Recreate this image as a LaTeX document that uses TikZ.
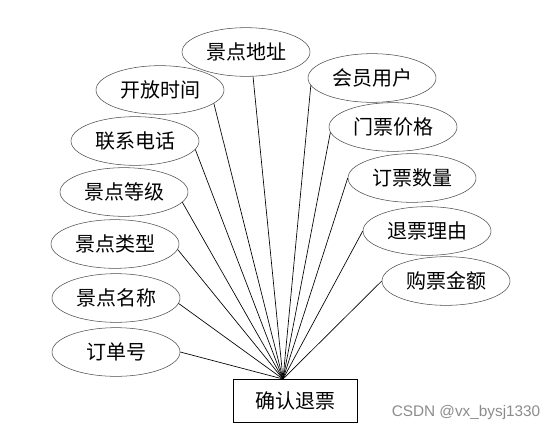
\documentclass[tikz,border=0pt]{standalone}
\usepackage{fontspec}
\usepackage{tikz}
\usetikzlibrary{shapes.geometric,positioning}
\newfontfamily\cjk{Noto Sans CJK SC}

\begin{document}
\begin{tikzpicture}[x=0.75pt, y=-0.75pt,
    attr/.style={ellipse, draw=black!70, inner sep=0pt, minimum width=96pt,
                 minimum height=36.5pt, font=\cjk\fontsize{15}{18}\selectfont},
    entity/.style={rectangle, draw=black, inner sep=0pt, minimum width=93pt,
                   minimum height=32pt, font=\cjk\fontsize{15}{18}\selectfont},
    link/.style={black, line width=0.5pt}]

\useasboundingbox (0,0) rectangle (559,432);

% Entity
\node[entity] (qrtp) at (295, 400.5) {确认退票};
\coordinate (hub) at (283, 379);

% Attributes, left side
\node[attr] (jddz) at (246, 52)  {景点地址};
\node[attr] (kfsj) at (160, 90)  {开放时间};
\node[attr] (lxdh) at (135, 141) {联系电话};
\node[attr] (jddj) at (124, 192) {景点等级};
\node[attr] (jdlx) at (115, 244) {景点类型};
\node[attr] (jdmc) at (116, 298) {景点名称};
\node[attr] (ddh)  at (116, 352) {订单号};

% Attributes, right side
\node[attr] (hyyh) at (372, 78)  {会员用户};
\node[attr] (mpjg) at (393, 127) {门票价格};
\node[attr] (dpsl) at (412, 178) {订票数量};
\node[attr] (tpyl) at (427, 231) {退票理由};
\node[attr] (gpje) at (446, 281) {购票金额};

% Links
\foreach \a/\ang in {jddz/-74,kfsj/-14,lxdh/-8,jddj/-10,jdlx/-5,jdmc/-5,ddh/0,
                     hyyh/187,mpjg/185,dpsl/180,tpyl/180,gpje/180}
  \draw[link] (\a.\ang) -- (hub);

% Watermark
\node[font=\fontspec{Liberation Sans}\fontsize{11.5}{13}\selectfont, text=black!45,
      anchor=east] (wm) at (545, 413) {CSDN @vx\_bysj1330};

\end{tikzpicture}
\end{document}
